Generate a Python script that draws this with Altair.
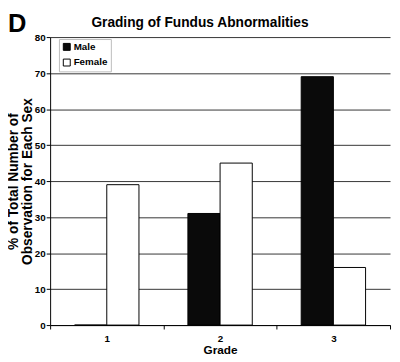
import altair as alt
import pandas as pd

grades = ["1", "2", "3"]
male = [0, 31, 69]
female = [39, 45, 16]
sexes = ["Male", "Female"]
colors = ["#0a0a0a", "#ffffff"]

rows = []
for g, m, f in zip(grades, male, female):
    rows.append({"grade": g, "sex": "Male", "pct": m})
    rows.append({"grade": g, "sex": "Female", "pct": f})
df = pd.DataFrame(rows)

FONT = "Liberation Sans Narrow, Liberation Sans, Arial, sans-serif"

bars = alt.Chart(df).mark_bar(stroke="#000000", strokeWidth=1).encode(
    x=alt.X(
        "grade:N",
        sort=grades,
        scale=alt.Scale(paddingInner=0, paddingOuter=0),
        axis=alt.Axis(
            title="Grade",
            labelAngle=0,
            tickBand="extent",
            domainColor="#000000",
            tickColor="#000000",
            tickSize=4,
            labelFont=FONT,
            labelFontSize=10,
            labelFontWeight="bold",
            labelColor="#000000",
            labelPadding=5,
            titleFont=FONT,
            titleFontSize=12,
            titleFontWeight="bold",
            titleColor="#000000",
            titlePadding=1,
        ),
    ),
    xOffset=alt.XOffset(
        "sex:N",
        sort=sexes,
        scale=alt.Scale(domain=sexes, paddingInner=0, paddingOuter=0.76),
    ),
    y=alt.Y(
        "pct:Q",
        scale=alt.Scale(domain=[0, 80], nice=False),
        axis=alt.Axis(
            title=["% of Total Number of", "Observation for Each Sex"],
            values=[0, 10, 20, 30, 40, 50, 60, 70, 80],
            grid=True,
            gridColor="#333333",
            gridWidth=1,
            domainColor="#000000",
            tickColor="#000000",
            tickSize=4,
            labelFont=FONT,
            labelFontSize=10,
            labelFontWeight="bold",
            labelColor="#000000",
            labelPadding=1,
            titleFont=FONT,
            titleFontSize=14,
            titleFontWeight="bold",
            titleColor="#000000",
            titleLineHeight=14,
            titleAngle=270,
            titleAlign="center",
            titleBaseline="top",
            titleX=-44,
            titleY=147,
        ),
    ),
    fill=alt.Fill(
        "sex:N",
        scale=alt.Scale(domain=sexes, range=colors),
        legend=alt.Legend(
            title=None,
            orient="none",
            legendX=9,
            legendY=2,
            symbolType="square",
            symbolSize=50,
            symbolStrokeColor="#000000",
            symbolStrokeWidth=1,
            labelFont=FONT,
            labelFontSize=10,
            labelFontWeight="bold",
            labelColor="#000000",
            strokeColor="#bbbbbb",
            fillColor="#ffffff",
            padding=3,
            rowPadding=4,
            labelOffset=2,
        ),
    ),
)

letter = alt.Chart(pd.DataFrame({"t": ["D"]})).mark_text(
    font=FONT, fontSize=26, fontWeight="bold", align="left", baseline="top", color="#000000"
).encode(text="t:N", x=alt.value(-43), y=alt.value(-26))

heading = alt.Chart(pd.DataFrame({"t": ["Grading of Fundus Abnormalities"]})).mark_text(
    font=FONT, fontSize=14, fontWeight="bold", align="center", baseline="middle", color="#000000"
).encode(text="t:N", x=alt.value(153), y=alt.value(-14))

chart = alt.layer(bars, letter, heading).properties(
    width=347,
    height=294,
    padding={"left": 43, "top": 26, "right": 2, "bottom": 34},
    autosize=alt.AutoSizeParams(type="none"),
).configure_view(stroke=None)

chart.save("out.html", embed_options={"renderer": "svg", "actions": False})
